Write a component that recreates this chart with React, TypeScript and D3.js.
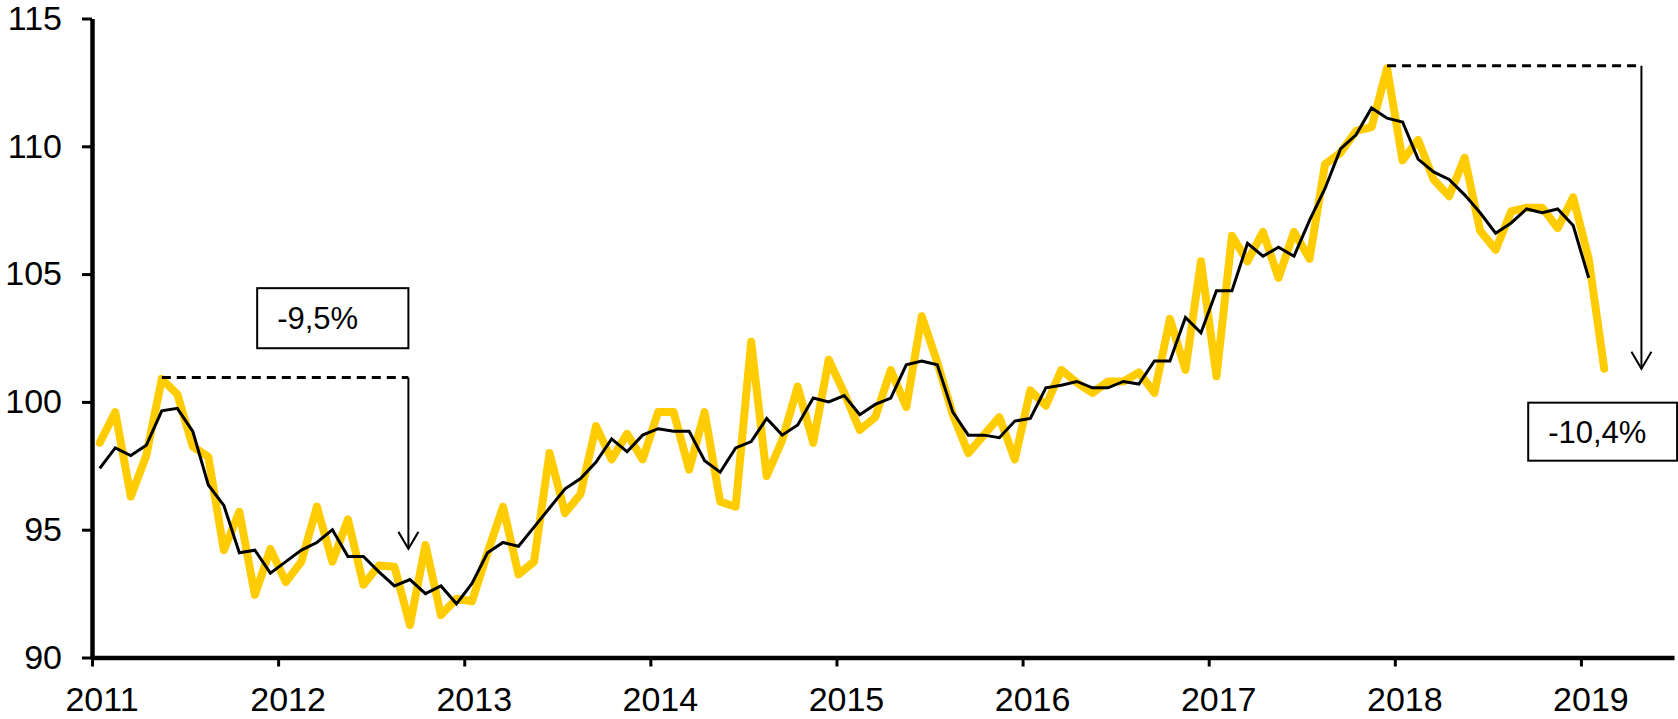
import React, { useEffect, useRef } from 'react';
import * as d3 from 'd3';

// monthly index, Jan 2011 = 0
const YEARS = [2011, 2012, 2013, 2014, 2015, 2016, 2017, 2018, 2019];

const monthly = [
  98.4, 99.6, 96.3, 97.9, 100.9, 100.3, 98.25, 97.85, 94.2, 95.7, 92.45, 94.25,
  92.95, 93.75, 95.9, 93.75, 95.4, 92.85, 93.6, 93.55, 91.27, 94.4, 91.66, 92.3,
  92.2, 94.1, 95.9, 93.25, 93.75, 98.0, 95.65, 96.4, 99.05, 97.75, 98.75, 97.75,
  99.6, 99.6, 97.35, 99.6, 96.1, 95.9, 102.35, 97.1, 98.5, 100.6, 98.4, 101.65,
  100.35, 98.9, 99.4, 101.25, 99.8, 103.35, 101.55, 99.5, 98.0, 98.7, 99.4, 97.75,
  100.45, 99.85, 101.25, 100.75, 100.35, 100.8, 100.8, 101.15, 100.35, 103.25, 101.25, 105.5,
  101.0, 106.5, 105.5, 106.65, 104.85, 106.65, 105.6, 109.3, 109.75, 110.6, 110.75, 113.05,
  109.45, 110.25, 108.7, 108.05, 109.55, 106.7, 105.95, 107.45, 107.6, 107.6, 106.8, 108.0,
  105.6, 101.3,
];

const smoothed = [
  97.4, 98.2, 97.9, 98.3, 99.65, 99.75, 98.85, 96.75, 95.95, 94.1, 94.2, 93.3,
  93.75, 94.2, 94.5, 95.0, 93.95, 93.95, 93.35, 92.8, 93.05, 92.5, 92.8, 92.1,
  92.9, 94.1, 94.5, 94.35, 95.1, 95.85, 96.6, 97.0, 97.65, 98.55, 98.05, 98.7,
  98.95, 98.85, 98.85, 97.7, 97.25, 98.2, 98.45, 99.35, 98.7, 99.1, 100.15, 100.0,
  100.25, 99.5, 99.9, 100.15, 101.45, 101.6, 101.45, 99.6, 98.7, 98.7, 98.6, 99.25,
  99.35, 100.55, 100.65, 100.8, 100.55, 100.55, 100.8, 100.7, 101.6, 101.6, 103.3, 102.7,
  104.35, 104.35, 106.2, 105.7, 106.05, 105.7, 107.1, 108.35, 109.9, 110.45, 111.5, 111.1,
  110.95, 109.5, 109.0, 108.7, 108.1, 107.4, 106.6, 107.0, 107.55, 107.4, 107.55, 106.9,
  104.85,
];

const Y_TICKS = [90, 95, 100, 105, 110, 115];

// annotations: peak index/level, arrow index, arrow tip level
const dropLeft = { from: 4, level: 100.95, at: 19.9, tip: 94.25, label: '-9,5%' };
const dropRight = { from: 83, level: 113.15, at: 99.4, tip: 101.3, label: '-10,4%' };
// boxes in data units: [x0, x1, yTop, yBottom]
const boxLeft = [10.15, 19.9, 104.45, 102.1];
const boxRight = [92.1, 101.7, 99.97, 97.7];

const W = 1678;
const H = 719;
const FONT = '"Liberation Sans", Arial, sans-serif';

export default function App() {
  const svgRef = useRef<SVGSVGElement>(null);

  useEffect(() => {
    if (!svgRef.current) return;
    const svg = d3.select(svgRef.current);
    svg.selectAll('*').remove();

    const x = d3.scaleLinear().domain([-0.5, 101.5]).range([92, 1674]);
    const y = d3.scaleLinear().domain([90, 115]).range([657.5, 18.5]);

    const line = d3
      .line<number>()
      .x((_, i) => x(i))
      .y((d) => y(d));

    svg
      .append('path')
      .attr('d', line(monthly))
      .attr('fill', 'none')
      .attr('stroke', '#ffcc00')
      .attr('stroke-width', 8)
      .attr('stroke-linejoin', 'round')
      .attr('stroke-linecap', 'round');

    svg
      .append('path')
      .attr('d', line(smoothed))
      .attr('fill', 'none')
      .attr('stroke', '#000')
      .attr('stroke-width', 3);

    // y axis
    const yAxis = svg
      .append('g')
      .attr('transform', `translate(${x(-0.5)},0)`)
      .call(d3.axisLeft(y).tickValues(Y_TICKS).tickSize(10).tickSizeOuter(0).tickPadding(20));
    yAxis.select('.domain').attr('stroke-width', 4.5);
    yAxis.selectAll('.tick line').attr('stroke-width', 3);
    yAxis
      .selectAll('.tick text')
      .attr('font-family', FONT)
      .attr('font-size', 34)
      .attr('fill', '#000');

    // x axis, ticks on year boundaries
    const boundaries = YEARS.map((_, k) => k * 12 - 0.5);
    const xAxis = svg
      .append('g')
      .attr('transform', `translate(0,${y(90)})`)
      .call(
        d3
          .axisBottom(x)
          .tickValues(boundaries)
          .tickSize(9)
          .tickSizeOuter(0)
          .tickFormat(() => '')
      );
    xAxis.select('.domain').attr('stroke-width', 4.5);
    xAxis.selectAll('.tick line').attr('stroke-width', 3);

    svg
      .append('g')
      .selectAll('text')
      .data(YEARS)
      .join('text')
      .attr('x', (_, k) => x(boundaries[k]) + 10)
      .attr('y', 711)
      .attr('text-anchor', 'middle')
      .attr('font-family', FONT)
      .attr('font-size', 34)
      .text((d) => String(d));

    const drawDrop = (a: typeof dropLeft) => {
      svg
        .append('line')
        .attr('x1', x(a.from))
        .attr('x2', x(a.at))
        .attr('y1', y(a.level))
        .attr('y2', y(a.level))
        .attr('stroke', '#000')
        .attr('stroke-width', 3)
        .attr('stroke-dasharray', '9,6');
      svg
        .append('line')
        .attr('x1', x(a.at))
        .attr('x2', x(a.at))
        .attr('y1', y(a.level))
        .attr('y2', y(a.tip))
        .attr('stroke', '#000')
        .attr('stroke-width', 2);
      const tx = x(a.at);
      const ty = y(a.tip);
      svg
        .append('path')
        .attr('d', `M${tx - 10},${ty - 17}L${tx},${ty}L${tx + 10},${ty - 17}`)
        .attr('fill', 'none')
        .attr('stroke', '#000')
        .attr('stroke-width', 2);
    };
    drawDrop(dropLeft);
    drawDrop(dropRight);

    const drawBox = (b: number[], label: string) => {
      const x0 = x(b[0]);
      const x1 = x(b[1]);
      const y0 = y(b[2]);
      const y1 = y(b[3]);
      svg
        .append('rect')
        .attr('x', x0)
        .attr('y', y0)
        .attr('width', x1 - x0)
        .attr('height', y1 - y0)
        .attr('fill', '#fff')
        .attr('stroke', '#000')
        .attr('stroke-width', 2);
      svg
        .append('text')
        .attr('x', x0 + 20)
        .attr('y', (y0 + y1) / 2 + 11)
        .attr('font-family', FONT)
        .attr('font-size', 31)
        .text(label);
    };
    drawBox(boxLeft, dropLeft.label);
    drawBox(boxRight, dropRight.label);
  }, []);

  return (
    <svg
      ref={svgRef}
      width={W}
      height={H}
      style={{ position: 'absolute', left: 0, top: 0, background: '#fff' }}
    />
  );
}
